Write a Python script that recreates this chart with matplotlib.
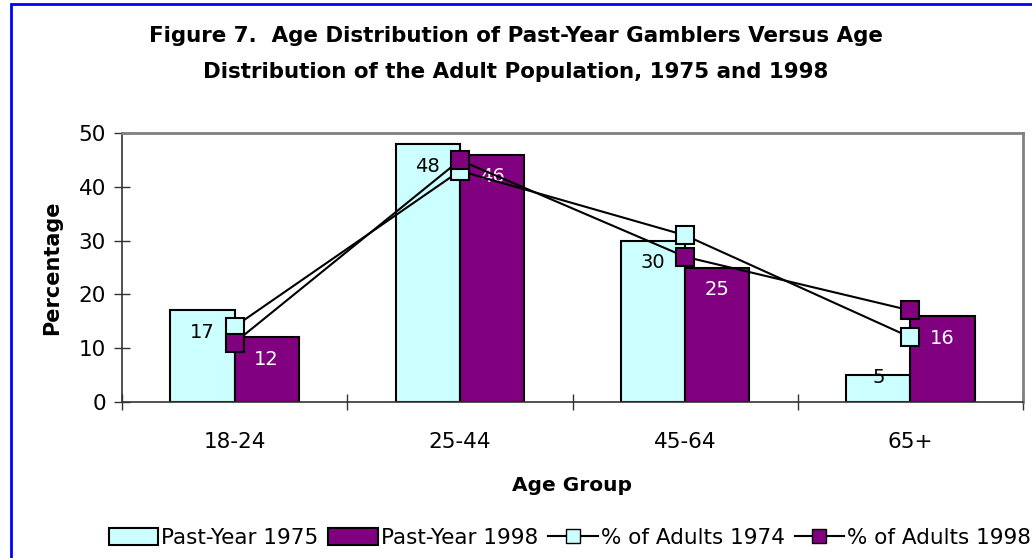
import numpy as np
import matplotlib
matplotlib.use("Agg")
import matplotlib.pyplot as plt
from matplotlib.patches import Rectangle, Patch
from matplotlib.lines import Line2D

# Age groups and percentages
age_groups = ["18-24", "25-44", "45-64", "65+"]
past_year_1975 = [17, 48, 30, 5]
past_year_1998 = [12, 46, 25, 16]
adults_1974 = [14, 43, 31, 12]
adults_1998 = [11, 45, 27, 17]

light = "#CCFFFF"
purple = "#800080"

plt.rcParams["font.family"] = "DejaVu Sans"

fig = plt.figure(figsize=(10.32, 5.58), dpi=100)
ax = fig.add_axes([122 / 1032, 156.3 / 558, 901 / 1032, 268.4 / 558])

x = np.arange(len(age_groups))
w = 0.285

ax.bar(x - w / 2, past_year_1975, w, color=light, edgecolor="black",
       linewidth=1.5, zorder=2)
ax.bar(x + w / 2, past_year_1998, w, color=purple, edgecolor="black",
       linewidth=1.5, zorder=2)

# value labels just inside the top of each bar
for xs, vals, col in [(x - w / 2, past_year_1975, "black"),
                      (x + w / 2, past_year_1998, "white")]:
    for xi, v in zip(xs, vals):
        dy = -16 if v >= 8 else -2
        ax.annotate(str(v), (xi, v), xytext=(0, dy), textcoords="offset points",
                    ha="center", va="center", fontsize=14, color=col, zorder=3)

ax.plot(x, adults_1974, color="black", lw=1.5, marker="s", markersize=13,
        markerfacecolor=light, markeredgecolor="black", markeredgewidth=1.5,
        zorder=4)
ax.plot(x, adults_1998, color="black", lw=1.5, marker="s", markersize=13,
        markerfacecolor=purple, markeredgecolor="black", markeredgewidth=1.5,
        zorder=4)

ax.set_xlim(-0.5, 3.5)
ax.set_ylim(0, 50)
ax.set_yticks(range(0, 51, 10))
ax.tick_params(axis="y", direction="inout", length=11, width=1, labelsize=15.5,
               pad=6, color="#333333")

# ticks between categories, labels centred under each group
ax.set_xticks(np.arange(-0.5, 4, 1))
ax.set_xticklabels([])
ax.set_xticks(x, minor=True)
ax.set_xticklabels(age_groups, minor=True, fontsize=15.5)
ax.tick_params(axis="x", which="major", direction="inout", length=12, width=1,
               color="#333333")
ax.tick_params(axis="x", which="minor", length=0, pad=22)

for side in ["top", "right"]:
    ax.spines[side].set_color("#808080")
    ax.spines[side].set_linewidth(2)
for side in ["left", "bottom"]:
    ax.spines[side].set_color("#333333")
    ax.spines[side].set_linewidth(1.2)

ax.set_ylabel("Percentage", fontsize=15, fontweight="bold", labelpad=12)
ax.set_xlabel("Age Group", fontsize=14.5, fontweight="bold", labelpad=17)

fig.text(0.5, 1 - 54 / 558,
         "Figure 7.  Age Distribution of Past-Year Gamblers Versus Age\n"
         "Distribution of the Adult Population, 1975 and 1998",
         ha="center", va="center", fontsize=15.4, fontweight="bold",
         linespacing=1.95)

handles = [
    Patch(facecolor=light, edgecolor="black", linewidth=1.5),
    Patch(facecolor=purple, edgecolor="black", linewidth=1.5),
    Line2D([], [], color="black", lw=1.5, marker="s", markersize=10,
           markerfacecolor=light, markeredgecolor="black"),
    Line2D([], [], color="black", lw=1.5, marker="s", markersize=10,
           markerfacecolor=purple, markeredgecolor="black"),
]
labels = ["Past-Year 1975", "Past-Year 1998", "% of Adults 1974",
          "% of Adults 1998"]
fig.legend(handles, labels, loc="center", bbox_to_anchor=(570 / 1032, 1 - 538 / 558),
           ncol=4, frameon=False, fontsize=15.5, handlelength=2.3,
           handleheight=0.8, handletextpad=0.15, columnspacing=0.45,
           borderaxespad=0)

# blue frame around the figure
fig.patches.append(Rectangle((10.5 / 1032, -0.1), 1.2, 1 - 4 / 558 + 0.1,
                             transform=fig.transFigure, fill=False,
                             edgecolor="#0000FF", linewidth=2))

fig.savefig("out.png", dpi=100)
